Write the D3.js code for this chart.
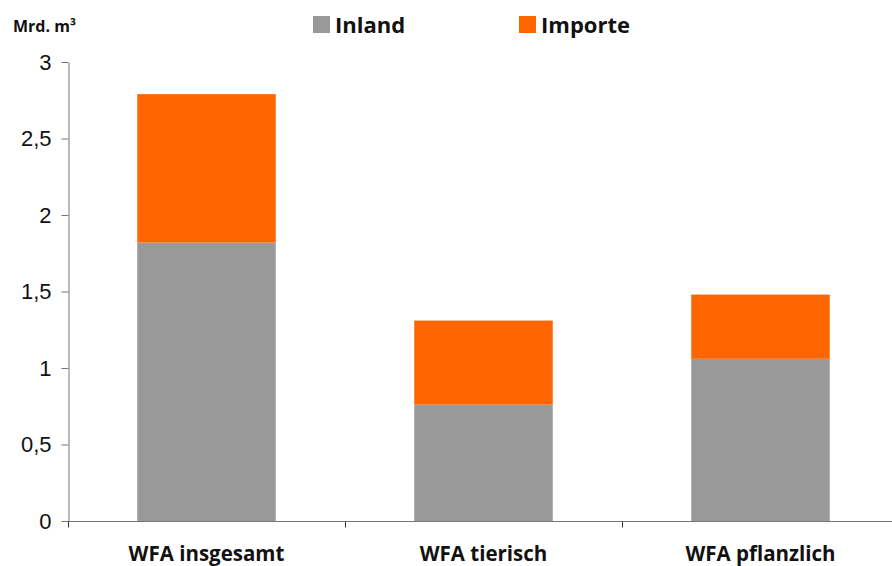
<!DOCTYPE html>
<html><head><meta charset="utf-8">
<script src="https://cdn.jsdelivr.net/npm/d3@7"></script>
<style>body{margin:0;background:#fff}svg{display:block;font-family:"Open Sans","DejaVu Sans",sans-serif}</style>
</head><body><svg id="c" width="892" height="566"></svg>
<script>
const categories = ["WFA insgesamt", "WFA tierisch", "WFA pflanzlich"];
const inland = [1.82, 0.76, 1.06];
const importe = [0.97, 0.55, 0.42];
const seriesNames = ["Inland", "Importe"];
const colors = ["#999999", "#FF6600"];
const yTicks = [0, 0.5, 1, 1.5, 2, 2.5, 3];
const yTickLabels = ["0", "0,5", "1", "1,5", "2", "2,5", "3"];

const svg = d3.select("#c");
const x = d3.scaleBand().domain(categories).range([68, 899]).paddingInner(0.5).paddingOuter(0.25);
const y = d3.scaleLinear().domain([0, 3]).range([521, 62]);

const data = categories.map((c, i) => ({cat: c, Inland: inland[i], Importe: importe[i]}));
const stack = d3.stack().keys(seriesNames)(data);

svg.selectAll("g.s").data(stack).join("g").attr("fill", (d, i) => colors[i])
  .selectAll("rect").data(d => d).join("rect")
  .attr("x", d => x(d.data.cat)).attr("width", x.bandwidth())
  .attr("y", d => y(d[1])).attr("height", d => y(d[0]) - y(d[1]));

// y axis
const ya = svg.append("g").attr("transform", "translate(68.5,0)")
  .call(d3.axisLeft(y).tickValues(yTicks).tickFormat((d, i) => yTickLabels[i]).tickSize(7).tickSizeOuter(0).tickPadding(10));
ya.select(".domain").attr("stroke", "#777");
ya.selectAll(".tick line").attr("stroke", "#777");
ya.selectAll("text").attr("font-size", 22).attr("fill", "#111");

// x axis
const xa = svg.append("g").attr("transform", "translate(0,521.5)");
xa.append("line").attr("x1", 68).attr("x2", 899).attr("stroke", "#777");
categories.forEach((c, i) => {
  const xb = x(c) - x.step() * 0.25;
  xa.append("line").attr("x1", Math.round(xb) + 0.5).attr("x2", Math.round(xb) + 0.5).attr("y1", 0).attr("y2", 6).attr("stroke", "#333");
});
xa.selectAll("text").data(categories).join("text")
  .attr("x", c => x(c) + x.bandwidth() / 2).attr("y", 39)
  .attr("text-anchor", "middle").attr("font-size", 20.5).attr("font-weight", "bold").attr("fill", "#111")
  .text(c => c);

// unit label
svg.append("text").attr("x", 13).attr("y", 32).attr("font-size", 16).attr("font-weight", "bold").attr("fill", "#111").text("Mrd. m³");

// legend
const legX = [313, 519];
seriesNames.forEach((s, i) => {
  svg.append("rect").attr("x", legX[i]).attr("y", 16).attr("width", 17).attr("height", 17).attr("fill", colors[i]);
  svg.append("text").attr("x", legX[i] + 22).attr("y", 33).attr("font-size", 22).attr("font-weight", "bold").attr("fill", "#111").text(s);
});
</script></body></html>
